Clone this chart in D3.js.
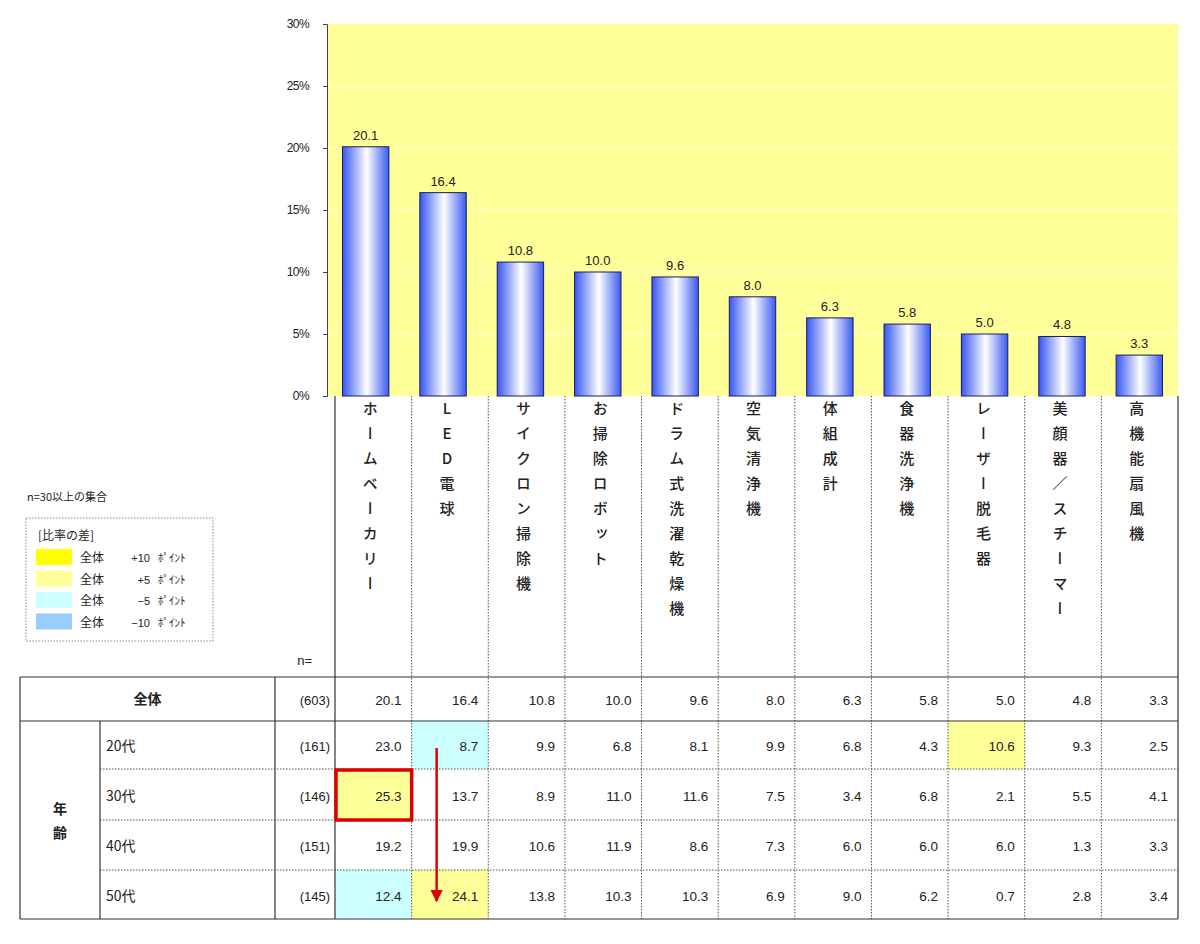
<!DOCTYPE html>
<html>
<head>
<meta charset="utf-8">
<script src="https://cdn.jsdelivr.net/npm/d3@7"></script>
<style>
  body { margin: 0; background: #fff; }
  text { font-family: "Noto Sans CJK JP", "Liberation Sans", sans-serif; fill: #222; }
</style>
</head>
<body>
<script>
// chart values
const categories = ["ホームベーカリー", "LED電球", "サイクロン掃除機", "お掃除ロボット", "ドラム式洗濯乾燥機",
  "空気清浄機", "体組成計", "食器洗浄機", "レーザー脱毛器", "美顔器／スチーマー", "高機能扇風機"];
const overall = [20.1, 16.4, 10.8, 10.0, 9.6, 8.0, 6.3, 5.8, 5.0, 4.8, 3.3];
const overallN = 603;
const ageGroups = ["20代", "30代", "40代", "50代"];
const ageN = [161, 146, 151, 145];
const age20 = [23.0, 8.7, 9.9, 6.8, 8.1, 9.9, 6.8, 4.3, 10.6, 9.3, 2.5];
const age30 = [25.3, 13.7, 8.9, 11.0, 11.6, 7.5, 3.4, 6.8, 2.1, 5.5, 4.1];
const age40 = [19.2, 19.9, 10.6, 11.9, 8.6, 7.3, 6.0, 6.0, 6.0, 1.3, 3.3];
const age50 = [12.4, 24.1, 13.8, 10.3, 10.3, 6.9, 9.0, 6.2, 0.7, 2.8, 3.4];
const yTicks = [0, 5, 10, 15, 20, 25, 30];
const legendItems = [
  { label: "全体", diff: "+10", color: "#ffff00" },
  { label: "全体", diff: "+5", color: "#ffff99" },
  { label: "全体", diff: "−5", color: "#ccffff" },
  { label: "全体", diff: "−10", color: "#99ccff" }
];

const ageRows = [age20, age30, age40, age50];

const svg = d3.select("body").append("svg")
  .attr("width", 1200)
  .attr("height", 944);

// ---- bar chart ----
const x = d3.scaleBand().domain(categories).range([327, 1178]).paddingInner(0.4).paddingOuter(0.2);
const y = d3.scaleLinear().domain([0, 30]).range([396, 24]);

const defs = svg.append("defs");
const grad = defs.append("linearGradient").attr("id", "barGrad")
  .attr("x1", "0%").attr("x2", "100%").attr("y1", "0%").attr("y2", "0%");
grad.append("stop").attr("offset", "0%").attr("stop-color", "#3556f2");
grad.append("stop").attr("offset", "52%").attr("stop-color", "#ffffff");
grad.append("stop").attr("offset", "100%").attr("stop-color", "#3a5af2");

svg.append("rect")
  .attr("x", 327).attr("y", y(30))
  .attr("width", 1178 - 327).attr("height", y(0) - y(30))
  .attr("fill", "#ffff99");

// faint grid lines
svg.append("g").selectAll("line").data(yTicks.filter(d => d > 0 && d < 30)).enter()
  .append("line")
  .attr("x1", 328).attr("x2", 1178)
  .attr("y1", d => y(d)).attr("y2", d => y(d))
  .attr("stroke", "#ffffc4").attr("stroke-width", 1.5);

const yAxis = svg.append("g")
  .attr("transform", "translate(327,0)")
  .call(d3.axisLeft(y).tickValues(yTicks).tickFormat(d => d + "%").tickSize(4).tickPadding(14));
yAxis.select(".domain").attr("stroke", "#444");
yAxis.selectAll(".tick line").attr("stroke", "#444");
yAxis.selectAll("text")
  .style("font-family", "'Liberation Sans', sans-serif")
  .style("font-size", "12px").style("letter-spacing", "-0.6px").attr("fill", "#333");

svg.append("g").selectAll("rect").data(overall).enter()
  .append("rect")
  .attr("x", (d, i) => x(categories[i]))
  .attr("y", d => y(d))
  .attr("width", x.bandwidth())
  .attr("height", d => y(0) - y(d))
  .attr("fill", "url(#barGrad)")
  .attr("stroke", "#1c1c5a")
  .attr("stroke-width", 1);

svg.append("g").selectAll("text").data(overall).enter()
  .append("text")
  .attr("x", (d, i) => x(categories[i]) + x.bandwidth() / 2)
  .attr("y", d => y(d) - 7)
  .attr("text-anchor", "middle")
  .style("font-family", "'Liberation Sans', sans-serif")
  .style("font-size", "13px")
  .text(d => d.toFixed(1));

// ---- table ----
const col = d3.scaleBand().domain(categories).range([335, 1178]);
const rowTop = [677, 721, 769, 820, 870];
const rowBottom = [721, 769, 820, 870, 919];
const tableLeft = 20, ageColRight = 100, labelColRight = 275, nColRight = 335, tableRight = 1178;
const lineColor = "#333";

const tbl = svg.append("g");

// highlighted cells, colour taken from the difference to the total
function diffColor(v, base) {
  const d = v - base;
  if (d >= 10) return "#ffff00";
  if (d >= 5) return "#ffff99";
  if (d <= -10) return "#99ccff";
  if (d <= -5) return "#ccffff";
  return null;
}
ageRows.forEach((row, r) => {
  row.forEach((v, i) => {
    const c = diffColor(v, overall[i]);
    if (!c) return;
    tbl.append("rect")
      .attr("x", col(categories[i])).attr("y", rowTop[r + 1])
      .attr("width", col.bandwidth()).attr("height", rowBottom[r + 1] - rowTop[r + 1])
      .attr("fill", c);
  });
});

// column separators in the label area and the table
categories.forEach((c, i) => {
  if (i === 0) return;
  tbl.append("line")
    .attr("x1", col(c)).attr("x2", col(c))
    .attr("y1", 396).attr("y2", 919)
    .attr("stroke", "#555").attr("stroke-width", 1)
    .attr("stroke-dasharray", "1.5,1.5");
});

// dotted row separators
[769, 820, 870].forEach(yy => {
  tbl.append("line")
    .attr("x1", ageColRight).attr("x2", tableRight)
    .attr("y1", yy).attr("y2", yy)
    .attr("stroke", "#555").attr("stroke-dasharray", "1.5,1.5");
});

// solid lines
const solid = [
  [nColRight, 396, nColRight, 919],
  [tableRight, 396, tableRight, 919],
  [tableLeft, 677, tableRight, 677],
  [tableLeft, 721, tableRight, 721],
  [tableLeft, 919, tableRight, 919],
  [tableLeft, 677, tableLeft, 919],
  [ageColRight, 721, ageColRight, 919],
  [labelColRight, 677, labelColRight, 919]
];
tbl.selectAll("line.solid").data(solid).enter()
  .append("line").attr("class", "solid")
  .attr("x1", d => d[0]).attr("y1", d => d[1])
  .attr("x2", d => d[2]).attr("y2", d => d[3])
  .attr("stroke", lineColor).attr("stroke-width", 1.2);

// category labels, written vertically
svg.append("g").selectAll("text").data(categories).enter()
  .append("text")
  .attr("x", d => col(d) + col.bandwidth() / 2 - 3)
  .attr("y", 401)
  .style("writing-mode", "vertical-rl")
  .style("text-orientation", "upright")
  .style("font-size", "15px")
  .style("font-weight", "500")
  .style("letter-spacing", "10px")
  .text(d => d);

const numFont = "'Liberation Sans', sans-serif";

tbl.append("text").attr("x", 312).attr("y", 665).attr("text-anchor", "end")
  .style("font-family", numFont).style("font-size", "13px").text("n=");

tbl.append("text").attr("x", (tableLeft + labelColRight) / 2).attr("y", (677 + 721) / 2 + 5)
  .attr("text-anchor", "middle").style("font-size", "14px").style("font-weight", "bold").text("全体");

tbl.append("text").attr("x", 60).attr("y", 814).attr("text-anchor", "middle")
  .style("font-size", "14px").style("font-weight", "bold").text("年");
tbl.append("text").attr("x", 60).attr("y", 838).attr("text-anchor", "middle")
  .style("font-size", "14px").style("font-weight", "bold").text("齢");

const nValues = [overallN].concat(ageN);
nValues.forEach((n, r) => {
  tbl.append("text").attr("x", nColRight - 5).attr("y", (rowTop[r] + rowBottom[r]) / 2 + 6)
    .attr("text-anchor", "end").style("font-family", numFont).style("font-size", "13px")
    .text("(" + n + ")");
});
ageGroups.forEach((a, r) => {
  tbl.append("text").attr("x", 106).attr("y", (rowTop[r + 1] + rowBottom[r + 1]) / 2 + 6)
    .style("font-size", "14px").text(a);
});

[overall].concat(ageRows).forEach((row, r) => {
  row.forEach((v, i) => {
    tbl.append("text")
      .attr("x", col(categories[i]) + col.bandwidth() - 10)
      .attr("y", (rowTop[r] + rowBottom[r]) / 2 + 6)
      .attr("text-anchor", "end")
      .style("font-family", numFont).style("font-size", "13.5px")
      .text(v.toFixed(1));
  });
});

// annotations: red box around 30代 ホームベーカリー, arrow down the LED column
tbl.append("rect")
  .attr("x", col(categories[0]) + 1).attr("y", rowTop[2] + 1)
  .attr("width", col.bandwidth() - 1).attr("height", rowBottom[2] - rowTop[2] - 1)
  .attr("fill", "none").attr("stroke", "#e00000").attr("stroke-width", 3.5);

defs.append("marker").attr("id", "arrowHead")
  .attr("viewBox", "0 0 10 10").attr("refX", 9).attr("refY", 5)
  .attr("markerWidth", 5).attr("markerHeight", 6).attr("orient", "auto")
  .attr("markerUnits", "strokeWidth")
  .append("path").attr("d", "M0,0 L10,5 L0,10 z").attr("fill", "#e00000");

const arrowX = col(categories[1]) + 25;
tbl.append("line")
  .attr("x1", arrowX).attr("x2", arrowX)
  .attr("y1", rowTop[1] + 27).attr("y2", rowBottom[4] - 18)
  .attr("stroke", "#e00000").attr("stroke-width", 2.5)
  .attr("marker-end", "url(#arrowHead)");

// ---- legend ----
const lg = svg.append("g");
lg.append("text").attr("x", 27).attr("y", 501).style("font-size", "11px").text("n=30以上の集合");
lg.append("rect").attr("x", 26).attr("y", 518).attr("width", 187).attr("height", 123)
  .attr("fill", "none").attr("stroke", "#888").attr("stroke-dasharray", "1.5,1.5");
lg.append("text").attr("x", 38).attr("y", 540).style("font-size", "12px").text("[比率の差]");
legendItems.forEach((d, i) => {
  const yy = 549 + i * 21.5;
  lg.append("rect").attr("x", 36).attr("y", yy).attr("width", 36).attr("height", 16).attr("fill", d.color);
  lg.append("text").attr("x", 80).attr("y", yy + 13).style("font-size", "12px").text(d.label);
  lg.append("text").attr("x", 150).attr("y", yy + 13).attr("text-anchor", "end")
    .style("font-family", numFont).style("font-size", "11px").text(d.diff);
  lg.append("text").attr("x", 158).attr("y", yy + 13).style("font-size", "11px").text("ﾎﾟｲﾝﾄ");
});
</script>
</body>
</html>
